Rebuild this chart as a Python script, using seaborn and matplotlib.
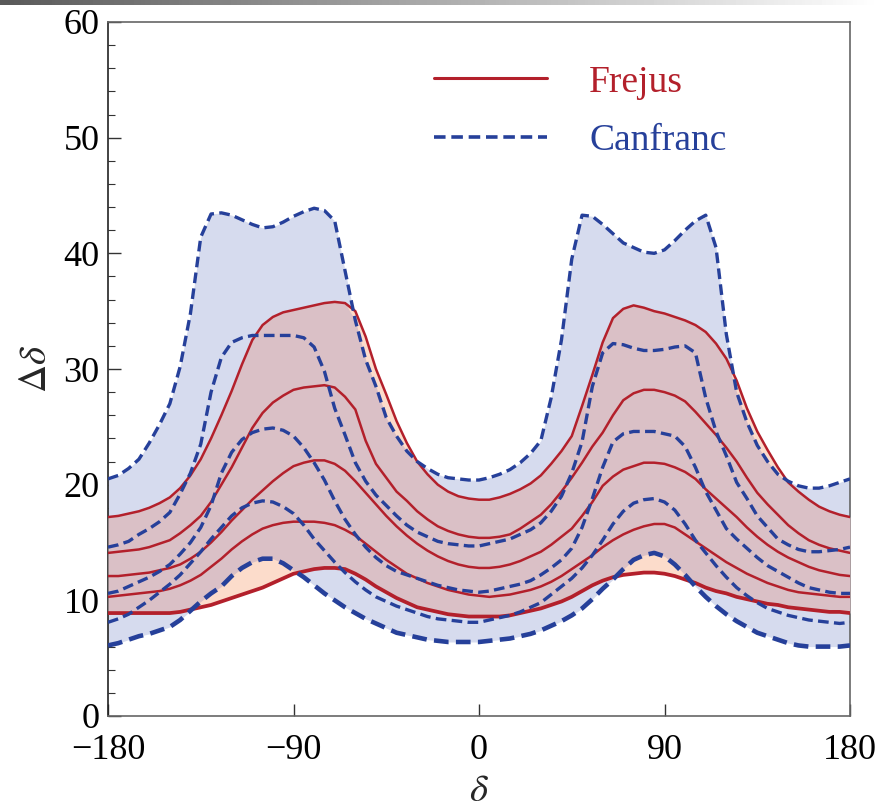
import numpy as np
import pandas as pd
import matplotlib
matplotlib.use("Agg")
import matplotlib.pyplot as plt
from matplotlib.lines import Line2D
import seaborn as sns

# ---------------- data ----------------
delta = list(range(-180, 185, 5))

canfranc_1 = [20.5, 20.8, 21.4, 22.2, 23.6, 25.2, 27.0, 30.2, 34.8, 41.4, 43.4, 43.5, 43.3, 42.9, 42.5,
              42.2, 42.3, 42.7, 43.2, 43.6, 43.9, 43.7, 42.8, 38.5, 34.2, 30.8, 28.5, 25.8, 24.2, 22.9,
              22.0, 21.4, 20.9, 20.6, 20.5, 20.4, 20.4, 20.6, 20.9, 21.3, 21.9, 22.7, 23.8, 27.5, 32.5,
              39.5, 43.3, 43.2, 42.5, 41.7, 40.9, 40.5, 40.1, 40.0, 40.3, 41.1, 42.0, 42.8, 43.3, 40.5,
              33.0, 28.0, 25.4, 23.4, 22.0, 20.9, 20.3, 19.9, 19.7, 19.7, 19.9, 20.2, 20.5]
canfranc_2 = [14.6, 14.8, 15.1, 15.7, 16.2, 16.8, 17.6, 19.2, 21.0, 23.5, 28.0, 31.0, 32.3, 32.7, 32.9,
              32.9, 32.9, 32.9, 32.9, 32.7, 31.9, 29.8, 26.6, 24.3, 21.9, 20.3, 19.1, 18.2, 17.3, 16.5,
              15.9, 15.5, 15.1, 14.9, 14.8, 14.7, 14.7, 14.9, 15.1, 15.3, 15.7, 16.1, 16.7, 17.7, 19.0,
              21.0, 23.7, 28.5, 31.4, 32.2, 32.1, 31.8, 31.6, 31.6, 31.7, 31.9, 32.0, 31.4, 27.5, 24.6,
              22.5, 20.2, 18.8, 17.3, 16.3, 15.3, 14.8, 14.4, 14.2, 14.2, 14.3, 14.4, 14.6]
canfranc_3 = [10.6, 10.8, 11.2, 11.6, 12.0, 12.5, 13.1, 14.0, 15.0, 16.3, 18.2, 21.0, 22.8, 23.9, 24.5,
              24.8, 24.9, 24.7, 24.2, 23.2, 21.9, 20.4, 18.6, 17.0, 15.7, 14.6, 13.7, 13.0, 12.5, 12.2,
              11.9, 11.6, 11.3, 11.1, 10.9, 10.8, 10.7, 10.8, 11.0, 11.2, 11.4, 11.7, 12.2, 12.8, 13.5,
              14.5, 16.3, 18.8, 21.5, 23.7, 24.4, 24.6, 24.6, 24.6, 24.4, 24.2, 23.3, 21.5, 19.4, 17.8,
              16.2, 15.3, 14.5, 13.7, 13.0, 12.5, 12.0, 11.5, 11.1, 10.9, 10.7, 10.6, 10.6]
canfranc_4 = [8.1, 8.4, 8.8, 9.4, 10.0, 10.7, 11.4, 12.2, 13.2, 14.2, 15.3, 16.3, 17.3, 18.0, 18.4,
              18.6, 18.5, 18.1, 17.5, 16.5, 15.3, 14.3, 13.3, 12.4, 11.6, 10.9, 10.3, 9.9, 9.5, 9.2,
              8.9, 8.6, 8.4, 8.3, 8.2, 8.1, 8.1, 8.3, 8.5, 8.7, 9.0, 9.4, 9.8, 10.5, 11.2,
              11.9, 12.8, 13.9, 15.2, 16.6, 17.7, 18.4, 18.7, 18.8, 18.5, 17.8, 16.6, 15.2, 14.1, 13.0,
              12.0, 11.1, 10.4, 9.8, 9.3, 9.0, 8.7, 8.5, 8.3, 8.2, 8.1, 8.0, 8.1]
canfranc_5 = [6.1, 6.3, 6.6, 6.9, 7.1, 7.4, 7.7, 8.3, 9.1, 9.9, 10.6, 11.2, 12.1, 12.8, 13.3,
              13.6, 13.6, 13.2, 12.6, 12.0, 11.3, 10.6, 10.0, 9.4, 8.9, 8.4, 8.0, 7.6, 7.2, 7.0,
              6.8, 6.6, 6.5, 6.4, 6.4, 6.4, 6.4, 6.5, 6.6, 6.7, 6.9, 7.1, 7.4, 7.8, 8.2,
              8.7, 9.3, 10.1, 11.0, 11.8, 12.7, 13.5, 13.9, 14.1, 13.8, 13.1, 12.2, 11.2, 10.3, 9.5,
              8.8, 8.2, 7.7, 7.2, 6.9, 6.6, 6.3, 6.1, 6.0, 6.0, 6.0, 6.0, 6.1]

frejus_1 = [17.2, 17.3, 17.5, 17.7, 18.0, 18.4, 18.9, 19.7, 20.8, 22.2, 24.0, 26.0, 28.1, 30.4, 32.5,
            33.8, 34.5, 34.9, 35.1, 35.3, 35.5, 35.7, 35.8, 35.7, 35.0, 32.8, 30.0, 27.8, 25.5, 23.6,
            22.0, 20.9, 20.0, 19.4, 19.0, 18.8, 18.7, 18.7, 18.9, 19.2, 19.6, 20.1, 20.8, 21.8, 22.9,
            24.2, 26.8, 29.5, 32.3, 34.4, 35.2, 35.5, 35.3, 35.0, 34.8, 34.5, 34.2, 33.8, 33.2, 32.2,
            30.9, 29.0, 26.6, 24.6, 23.0, 21.5, 20.2, 19.4, 18.7, 18.1, 17.7, 17.4, 17.2]
frejus_2 = [14.1, 14.2, 14.3, 14.4, 14.6, 14.9, 15.2, 15.8, 16.5, 17.3, 18.5, 20.0, 21.5, 23.2, 24.9,
            26.2, 27.1, 27.7, 28.2, 28.4, 28.5, 28.6, 28.4, 27.6, 26.5, 23.8, 21.8, 20.6, 19.4, 18.6,
            17.7, 17.0, 16.4, 16.0, 15.7, 15.5, 15.4, 15.4, 15.5, 15.7, 16.2, 16.8, 17.4, 18.3, 19.4,
            20.6, 21.9, 23.3, 24.5, 26.0, 27.3, 27.9, 28.2, 28.2, 28.0, 27.7, 27.2, 26.3, 25.3, 24.3,
            23.2, 22.0, 20.6, 19.3, 18.3, 17.4, 16.5, 15.8, 15.2, 14.8, 14.5, 14.3, 14.1]
frejus_3 = [12.1, 12.1, 12.2, 12.3, 12.4, 12.6, 12.8, 13.1, 13.6, 14.2, 15.0, 15.9, 16.9, 17.8, 18.7,
            19.5, 20.3, 21.0, 21.6, 21.9, 22.1, 22.1, 21.8, 21.2, 20.3, 19.3, 18.3, 17.3, 16.4, 15.6,
            14.9, 14.3, 13.8, 13.4, 13.1, 12.9, 12.8, 12.8, 12.9, 13.1, 13.4, 13.8, 14.2, 14.8, 15.5,
            16.2, 17.3, 18.5, 19.9, 20.7, 21.3, 21.6, 21.9, 21.9, 21.8, 21.5, 21.1, 20.5, 19.6, 18.8,
            18.0, 17.2, 16.3, 15.5, 14.8, 14.2, 13.7, 13.3, 12.9, 12.6, 12.4, 12.2, 12.1]
frejus_4 = [10.3, 10.4, 10.5, 10.6, 10.7, 10.8, 11.0, 11.3, 11.7, 12.2, 12.9, 13.6, 14.4, 15.1, 15.7,
            16.2, 16.5, 16.7, 16.8, 16.8, 16.8, 16.7, 16.5, 16.1, 15.6, 14.9, 14.2, 13.5, 12.9, 12.3,
            11.9, 11.5, 11.2, 10.9, 10.7, 10.5, 10.4, 10.3, 10.4, 10.5, 10.7, 10.9, 11.2, 11.6, 12.1,
            12.7, 13.3, 13.9, 14.6, 15.2, 15.7, 16.1, 16.4, 16.6, 16.6, 16.3, 15.7, 15.1, 14.5, 13.9,
            13.3, 12.8, 12.3, 11.9, 11.5, 11.2, 10.9, 10.7, 10.6, 10.5, 10.4, 10.3, 10.3]
frejus_5 = [8.9, 8.9, 8.9, 8.9, 8.9, 8.9, 8.9, 9.0, 9.2, 9.4, 9.6, 9.9, 10.2, 10.5, 10.8,
            11.1, 11.5, 11.9, 12.3, 12.5, 12.7, 12.8, 12.8, 12.7, 12.3, 11.8, 11.2, 10.7, 10.2, 9.8,
            9.4, 9.2, 9.0, 8.8, 8.7, 8.6, 8.6, 8.6, 8.6, 8.7, 8.9, 9.1, 9.3, 9.6, 9.9,
            10.3, 10.8, 11.3, 11.7, 12.0, 12.2, 12.3, 12.4, 12.4, 12.3, 12.1, 11.8, 11.5, 11.1, 10.8,
            10.6, 10.3, 10.1, 9.9, 9.7, 9.6, 9.4, 9.3, 9.2, 9.1, 9.0, 9.0, 8.9]

x_ticks = [-180, -90, 0, 90, 180]
y_ticks = [0, 10, 20, 30, 40, 50, 60]
legend_labels = ["Frejus", "Canfranc"]

# ---------------- style ----------------
sns.set_style("ticks")
plt.rcParams["font.family"] = ["Liberation Serif", "DejaVu Serif"]
plt.rcParams["mathtext.fontset"] = "stix"

RED = "#b3202b"
BLUE = "#26409a"
C_BLUE_FILL = "#d6dbee"
C_RED_FILL = "#fcdccb"
C_BOTH_FILL = "#dac0c6"
DASH = (0, (3.2, 1.6))

fig = plt.figure(figsize=(8.81, 8.08), dpi=100)
ax = fig.add_axes([108 / 881, 1 - 716 / 808, 742 / 881, 694 / 808])

x = np.array(delta, dtype=float)
can = np.array([canfranc_1, canfranc_2, canfranc_3, canfranc_4, canfranc_5])
fre = np.array([frejus_1, frejus_2, frejus_3, frejus_4, frejus_5])
c_lo, c_hi = can.min(axis=0), can.max(axis=0)
f_lo, f_hi = fre.min(axis=0), fre.max(axis=0)

# filled bands
ax.fill_between(x, c_lo, c_hi, color=C_BLUE_FILL, lw=0, zorder=1)
ax.fill_between(x, f_lo, f_hi, color=C_RED_FILL, lw=0, zorder=2)
lo = np.maximum(c_lo, f_lo)
hi = np.minimum(c_hi, f_hi)
ax.fill_between(x, lo, hi, where=hi >= lo, interpolate=True, color=C_BOTH_FILL, lw=0, zorder=3)

# curves
rows = []
for name, arr in zip(["F1", "F2", "F3", "F4", "F5"], fre):
    rows.append(pd.DataFrame({"delta": x, "ddelta": arr, "curve": name}))
for name, arr in zip(["C1", "C2", "C3", "C4", "C5"], can):
    rows.append(pd.DataFrame({"delta": x, "ddelta": arr, "curve": name}))
df = pd.concat(rows, ignore_index=True)

for name in ["F1", "F2", "F3", "F4", "F5"]:
    sub = df[df["curve"] == name]
    lw = 2.7 if name == "F5" else 1.8
    sns.lineplot(data=sub, x="delta", y="ddelta", ax=ax, color=RED, lw=lw,
                 legend=False, zorder=5, sort=False)
for name in ["C1", "C2", "C3", "C4", "C5"]:
    sub = df[df["curve"] == name]
    lw = 3.3 if name == "C5" else 2.4
    sns.lineplot(data=sub, x="delta", y="ddelta", ax=ax, color=BLUE, lw=lw,
                 linestyle=DASH, legend=False, zorder=6, sort=False)

# axes
ax.set_xlim(-180, 180)
ax.set_ylim(0, 60)
ax.set_xticks(x_ticks)
ax.set_yticks(y_ticks)
ax.set_yticks(np.arange(0, 61, 2), minor=True)
ax.tick_params(axis="both", which="both", direction="in", top=False, right=False,
               colors="#333333", labelcolor="black", labelsize=26)
ax.tick_params(axis="both", which="major", length=9, width=1.0)
ax.tick_params(axis="both", which="minor", length=5, width=0.8)
ax.tick_params(axis="x", pad=13)
ax.tick_params(axis="y", pad=6)
for s in ax.spines.values():
    s.set_color("#666666")
    s.set_linewidth(1.2)
ax.spines["left"].set_color("#222222")

ax.set_xlabel(r"$\delta$", fontsize=28, labelpad=4)
ax.set_ylabel(r"$\Delta\delta$", fontsize=28, labelpad=6)

handles = [Line2D([], [], color=RED, lw=2.2),
           Line2D([], [], color=BLUE, lw=2.6, linestyle=DASH)]
leg = ax.legend(handles, legend_labels, loc="upper left", bbox_to_anchor=(0.44, 0.938),
                frameon=False, fontsize=27, handlelength=3.0, handletextpad=1.13,
                labelspacing=0.64, borderpad=0, borderaxespad=0)
for t, c in zip(leg.get_texts(), [RED, BLUE]):
    t.set_color(c)

# thin grey bar along the top edge of the slide
bar = fig.add_axes([0, 1 - 5 / 808, 1, 5 / 808])
bar.imshow(np.linspace(0.35, 1.0, 256)[None, :], aspect="auto", cmap="gray", vmin=0, vmax=1)
bar.axis("off")

fig.savefig("out.png", dpi=100)
